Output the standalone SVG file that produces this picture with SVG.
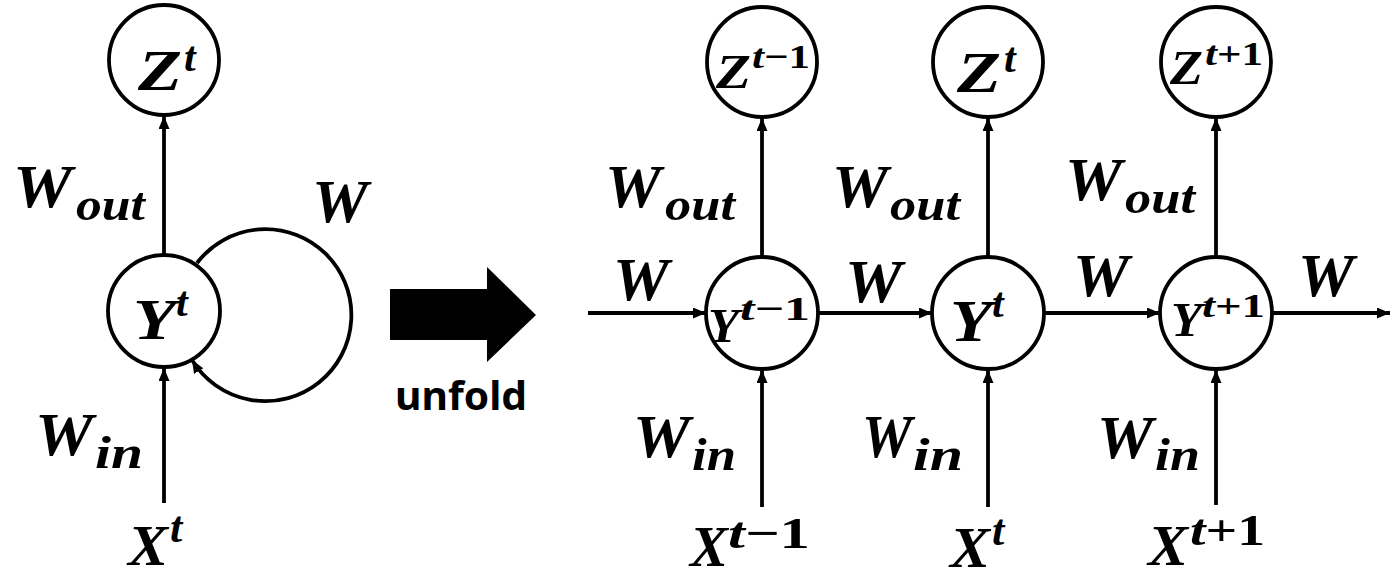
<svg xmlns="http://www.w3.org/2000/svg" width="1397" height="580" viewBox="0 0 1397 580">
  <style>
    .node { fill: #fff; stroke: #000; stroke-width: 3.8; }
    .edge { fill: none; stroke: #000; stroke-width: 3.8; marker-end: url(#head); }
    .m { font-family: "Liberation Serif", "Times New Roman", serif; font-weight: bold; font-style: italic; fill: #000; }
    .n { font-style: normal; }
    .big { font-size: 62px; }
    .sub { font-size: 46px; }
    .sans { font-family: "Noto Sans", "Liberation Sans", sans-serif; font-weight: bold; font-size: 40px; fill: #000; }
  </style>
  <defs>
    <marker id="head" markerUnits="userSpaceOnUse" markerWidth="13" markerHeight="11" refX="13" refY="5.5" orient="auto">
      <path d="M0,0 L13,5.5 L0,11 Z" fill="#000"/>
    </marker>
  </defs>
  <rect width="1397" height="580" fill="#fff"/>

  <!-- connectors -->
  <g id="connectors">
    <!-- folded network -->
    <line class="edge" x1="164" y1="255" x2="164" y2="116"/>
    <line class="edge" x1="164" y1="503" x2="164" y2="368"/>
    <path class="edge" d="M197,263 A86,86 0 1 1 192,360"/>
    <!-- unrolled: outputs -->
    <line class="edge" x1="762" y1="257" x2="762" y2="118"/>
    <line class="edge" x1="988" y1="257" x2="988" y2="118"/>
    <line class="edge" x1="1216" y1="257" x2="1216" y2="118"/>
    <!-- unrolled: inputs -->
    <line class="edge" x1="762" y1="507" x2="762" y2="370"/>
    <line class="edge" x1="988" y1="507" x2="988" y2="370"/>
    <line class="edge" x1="1216" y1="505" x2="1216" y2="370"/>
    <!-- unrolled: recurrence -->
    <line class="edge" x1="588" y1="313" x2="706" y2="313"/>
    <line class="edge" x1="818" y1="313" x2="932" y2="313"/>
    <line class="edge" x1="1044" y1="313" x2="1160" y2="313"/>
    <line class="edge" x1="1272" y1="313" x2="1390" y2="313"/>
  </g>

  <!-- edge labels -->
  <g id="edge-labels" class="m">
    <text class="big" x="312" y="222" textLength="56" lengthAdjust="spacingAndGlyphs">W</text>
    <text class="big" x="13" y="207" textLength="59" lengthAdjust="spacingAndGlyphs">W</text>
    <text class="sub" x="76" y="220" textLength="69" lengthAdjust="spacingAndGlyphs">out</text>
    <text class="big" x="35" y="455" textLength="58" lengthAdjust="spacingAndGlyphs">W</text>
    <text class="sub" x="95" y="468" textLength="48" lengthAdjust="spacingAndGlyphs">in</text>

    <text class="big" x="605" y="207" textLength="56" lengthAdjust="spacingAndGlyphs">W</text>
    <text class="sub" x="665" y="220" textLength="70" lengthAdjust="spacingAndGlyphs">out</text>
    <text class="big" x="832" y="207" textLength="56" lengthAdjust="spacingAndGlyphs">W</text>
    <text class="sub" x="890" y="220" textLength="70" lengthAdjust="spacingAndGlyphs">out</text>
    <text class="big" x="1065" y="200" textLength="57" lengthAdjust="spacingAndGlyphs">W</text>
    <text class="sub" x="1125" y="213" textLength="70" lengthAdjust="spacingAndGlyphs">out</text>

    <text class="big" x="633" y="457" textLength="57" lengthAdjust="spacingAndGlyphs">W</text>
    <text class="sub" x="692" y="470" textLength="44" lengthAdjust="spacingAndGlyphs">in</text>
    <text class="big" x="862" y="457" textLength="50" lengthAdjust="spacingAndGlyphs">W</text>
    <text class="sub" x="913" y="470" textLength="50" lengthAdjust="spacingAndGlyphs">in</text>
    <text class="big" x="1097" y="458" textLength="56" lengthAdjust="spacingAndGlyphs">W</text>
    <text class="sub" x="1155" y="470" textLength="45" lengthAdjust="spacingAndGlyphs">in</text>

    <text class="big" x="613" y="300" textLength="56" lengthAdjust="spacingAndGlyphs">W</text>
    <text class="big" x="845" y="302" textLength="57" lengthAdjust="spacingAndGlyphs">W</text>
    <text class="big" x="1073" y="296" textLength="56" lengthAdjust="spacingAndGlyphs">W</text>
    <text class="big" x="1298" y="296" textLength="56" lengthAdjust="spacingAndGlyphs">W</text>
  </g>

  <!-- unfold arrow -->
  <g id="unfold">
    <polygon points="390,289 487,289 487,267 536,315 487,362 487,340 390,340" fill="#000"/>
    <text class="sans" x="395" y="410" textLength="132" lengthAdjust="spacingAndGlyphs">unfold</text>
  </g>

  <!-- folded network nodes -->
  <g id="Z-fold">
    <circle class="node" cx="164" cy="60" r="55"/>
    <text class="m" font-size="56" x="138" y="90" textLength="44" lengthAdjust="spacingAndGlyphs">Z</text>
    <text class="m" font-size="42" x="184" y="71">t</text>
  </g>
  <g id="Y-fold">
    <circle class="node" cx="164" cy="311" r="56"/>
    <text class="m" font-size="58" x="133" y="339" textLength="43" lengthAdjust="spacingAndGlyphs">Y</text>
    <text class="m" font-size="42" x="176" y="316">t</text>
  </g>
  <g id="X-fold">
    <text class="m" font-size="58" x="128" y="565" textLength="40" lengthAdjust="spacingAndGlyphs">X</text>
    <text class="m" font-size="44" x="170" y="542">t</text>
  </g>

  <!-- unrolled nodes, step t-1 -->
  <g id="Z-prev">
    <circle class="node" cx="762" cy="62" r="55"/>
    <text class="m" font-size="48" x="716" y="88" textLength="35" lengthAdjust="spacingAndGlyphs">Z</text>
    <text class="m" font-size="34" x="752" y="68" textLength="58" lengthAdjust="spacingAndGlyphs">t<tspan class="n">−1</tspan></text>
  </g>
  <g id="Y-prev">
    <circle class="node" cx="762" cy="313" r="56"/>
    <text class="m" font-size="48" x="708" y="342" textLength="31" lengthAdjust="spacingAndGlyphs">Y</text>
    <text class="m" font-size="34" x="740" y="320" textLength="70" lengthAdjust="spacingAndGlyphs">t<tspan class="n">−1</tspan></text>
  </g>
  <g id="X-prev">
    <text class="m" font-size="58" x="690" y="566" textLength="38" lengthAdjust="spacingAndGlyphs">X</text>
    <text class="m" font-size="44" x="728" y="548" textLength="82" lengthAdjust="spacingAndGlyphs">t<tspan class="n">−1</tspan></text>
  </g>

  <!-- unrolled nodes, step t -->
  <g id="Z-cur">
    <circle class="node" cx="988" cy="62" r="55"/>
    <text class="m" font-size="56" x="957" y="92" textLength="44" lengthAdjust="spacingAndGlyphs">Z</text>
    <text class="m" font-size="42" x="1004" y="72">t</text>
  </g>
  <g id="Y-cur">
    <circle class="node" cx="988" cy="313" r="56"/>
    <text class="m" font-size="60" x="950" y="341" textLength="42" lengthAdjust="spacingAndGlyphs">Y</text>
    <text class="m" font-size="42" x="992" y="317">t</text>
  </g>
  <g id="X-cur">
    <text class="m" font-size="58" x="950" y="567" textLength="40" lengthAdjust="spacingAndGlyphs">X</text>
    <text class="m" font-size="44" x="992" y="545">t</text>
  </g>

  <!-- unrolled nodes, step t+1 -->
  <g id="Z-next">
    <circle class="node" cx="1216" cy="62" r="55"/>
    <text class="m" font-size="48" x="1170" y="84" textLength="33" lengthAdjust="spacingAndGlyphs">Z</text>
    <text class="m" font-size="34" x="1205" y="65" textLength="58" lengthAdjust="spacingAndGlyphs">t<tspan class="n">+1</tspan></text>
  </g>
  <g id="Y-next">
    <circle class="node" cx="1216" cy="313" r="56"/>
    <text class="m" font-size="48" x="1171" y="336" textLength="31" lengthAdjust="spacingAndGlyphs">Y</text>
    <text class="m" font-size="34" x="1202" y="317" textLength="63" lengthAdjust="spacingAndGlyphs">t<tspan class="n">+1</tspan></text>
  </g>
  <g id="X-next">
    <text class="m" font-size="58" x="1148" y="565" textLength="40" lengthAdjust="spacingAndGlyphs">X</text>
    <text class="m" font-size="44" x="1190" y="545" textLength="75" lengthAdjust="spacingAndGlyphs">t<tspan class="n">+1</tspan></text>
  </g>
</svg>
